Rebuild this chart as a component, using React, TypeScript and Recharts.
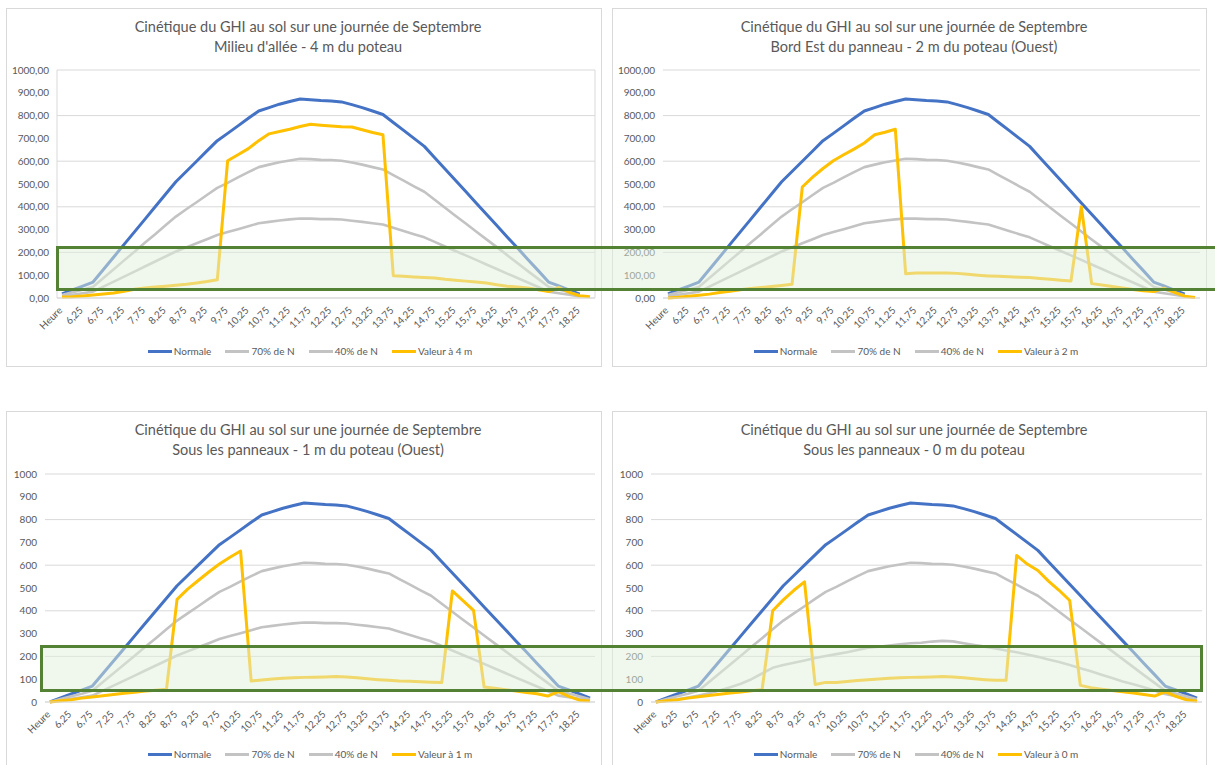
import React from 'react';
import { LineChart, Line, XAxis, YAxis, CartesianGrid } from 'recharts';

const categories = ['Heure','6,00','6,25','6,50','6,75','7,00','7,25','7,50','7,75','8,00','8,25','8,50','8,75','9,00','9,25','9,50','9,75','10,00','10,25','10,50','10,75','11,00','11,25','11,50','11,75','12,00','12,25','12,50','12,75','13,00','13,25','13,50','13,75','14,00','14,25','14,50','14,75','15,00','15,25','15,50','15,75','16,00','16,25','16,50','16,75','17,00','17,25','17,50','17,75','18,00','18,25','18,50'];

const yTicks = [0, 100, 200, 300, 400, 500, 600, 700, 800, 900, 1000];

// Top charts (4 m and 2 m)
const normaleTop = [18, 35, 52, 70, 125, 180, 235, 290, 345, 400, 455, 510, 555, 600, 645, 690, 722, 755, 788, 820, 835, 850, 862, 873, 870, 866, 864, 860, 848, 835, 820, 805, 770, 735, 700, 665, 615, 566, 516, 467, 417, 367, 318, 268, 219, 169, 120, 70, 53, 35, 17, null];
const pct70Top = [13, 25, 36, 49, 88, 126, 165, 203, 242, 280, 319, 357, 389, 420, 452, 483, 505, 529, 552, 574, 585, 595, 603, 611, 609, 606, 605, 602, 594, 585, 574, 564, 539, 515, 490, 466, 431, 396, 361, 327, 292, 257, 223, 188, 153, 118, 84, 49, 37, 25, 12, null];
const pct40Top = [7, 14, 21, 28, 50, 72, 94, 116, 138, 160, 182, 204, 222, 240, 258, 276, 289, 302, 315, 328, 334, 340, 345, 349, 348, 346, 346, 344, 339, 334, 328, 322, 308, 294, 280, 266, 246, 226, 206, 187, 167, 147, 127, 107, 88, 68, 48, 28, 21, 14, 7, null];
const valeur4m = [4, 5, 9, 13, 18, 22, 30, 38, 44, 48, 52, 56, 60, 66, 72, 80, 602, 628, 655, 690, 720, 730, 740, 752, 762, 758, 754, 751, 750, 738, 726, 716, 98, 95, 92, 90, 88, 82, 78, 74, 70, 66, 58, 52, 48, 44, 36, 28, 46, 25, 10, 6];
const valeur2m = [0, 3, 8, 12, 17, 24, 30, 36, 42, 46, 50, 55, 60, 487, 530, 568, 602, 628, 653, 680, 716, 727, 740, 106, 110, 110, 110, 110, 108, 104, 100, 97, 95, 93, 91, 90, 86, 82, 78, 75, 400, 63, 57, 50, 44, 37, 32, 28, 43, 25, 8, 2];

// Bottom charts (1 m and 0 m)
const normaleBot = [0, 18, 35, 52, 70, 125, 180, 235, 290, 345, 400, 455, 510, 555, 600, 645, 690, 722, 755, 788, 820, 835, 850, 862, 873, 870, 866, 864, 860, 848, 835, 820, 805, 770, 735, 700, 665, 615, 566, 516, 467, 417, 367, 318, 268, 219, 169, 120, 70, 53, 35, 17];
const pct70Bot = [0, 13, 25, 36, 49, 88, 126, 165, 203, 242, 280, 319, 357, 389, 420, 452, 483, 505, 529, 552, 574, 585, 595, 603, 611, 609, 606, 605, 602, 594, 585, 574, 564, 539, 515, 490, 466, 431, 396, 361, 327, 292, 257, 223, 188, 153, 118, 84, 49, 37, 25, 12];
const pct40Bot1m = [0, 7, 14, 21, 28, 50, 72, 94, 116, 138, 160, 182, 204, 222, 240, 258, 276, 289, 302, 315, 328, 334, 340, 345, 349, 348, 346, 346, 344, 339, 334, 328, 322, 308, 294, 280, 266, 246, 226, 206, 187, 167, 147, 127, 107, 88, 68, 48, 28, 21, 14, 7];
const pct40Bot0m = [0, 6, 12, 20, 28, 38, 50, 65, 80, 100, 125, 150, 162, 172, 182, 193, 202, 210, 218, 228, 238, 242, 248, 253, 258, 260, 265, 268, 266, 258, 250, 243, 235, 226, 218, 208, 198, 186, 175, 162, 148, 135, 120, 105, 90, 78, 65, 50, 35, 25, 15, 8];
const valeur1m = [0, 5, 10, 17, 22, 27, 33, 38, 43, 48, 52, 56, 450, 495, 533, 570, 605, 635, 662, 92, 97, 101, 104, 106, 108, 109, 110, 112, 110, 106, 102, 98, 95, 92, 91, 89, 87, 85, 487, 445, 402, 66, 60, 54, 48, 42, 36, 26, 46, 25, 8, 4];
const valeur0m = [0, 5, 10, 17, 23, 28, 34, 39, 44, 49, 54, 400, 448, 490, 527, 77, 86, 86, 90, 94, 98, 101, 104, 106, 108, 109, 110, 112, 110, 106, 102, 98, 95, 95, 643, 605, 577, 530, 490, 445, 73, 63, 56, 50, 45, 39, 33, 26, 45, 25, 10, 3];

const TITLE1 = 'Cinétique du GHI au sol sur une journée de Septembre';
const BLUE = '#4472C4';
const GRAY = '#C3C3C3';
const YELLOW = '#FFC000';
const TEXT = '#595959';
const FONT = 'Lato, sans-serif';

const XTick = (props: any) => {
  const { x, y, payload } = props;
  const ax = x + 1;
  const ay = y + 13;
  return (
    <text x={ax} y={ay} textAnchor="end" fontSize={10} fill={TEXT} fontFamily={FONT}
      transform={`rotate(-45, ${ax}, ${ay})`}>{payload.value}</text>
  );
};

type PanelProps = {
  left: number; top: number; width: number; height: number;
  subtitle: string; lastLabel: string;
  normale: (number | null)[]; p70: (number | null)[]; p40: (number | null)[]; valeur: number[];
  decimals: boolean; plotLeft: number; plotRight: number; plotTop: number; plotBottom: number;
  boxed: boolean;
};

function Panel(p: PanelProps) {
  const data = categories.map((c, i) => ({ cat: c, n: p.normale[i], a: p.p70[i], b: p.p40[i], v: p.valeur[i] }));
  const yAxisW = p.plotLeft;
  const fmt = (v: number) => (p.decimals ? v.toFixed(2).replace('.', ',') : String(v));
  const legend = [
    { name: 'Normale', color: BLUE },
    { name: '70% de N', color: GRAY },
    { name: '40% de N', color: GRAY },
    { name: p.lastLabel, color: YELLOW },
  ];
  return (
    <div style={{ position: 'absolute', left: p.left, top: p.top, width: p.width, height: p.height, background: '#fff' }}>
      <div style={{ position: 'absolute', inset: 0, border: '1px solid #D9D9D9', boxSizing: 'border-box' }} />
      <div style={{ position: 'absolute', left: 2, top: 9, width: 600, textAlign: 'center', fontFamily: FONT, fontSize: 14.5, lineHeight: '20px', color: TEXT, whiteSpace: 'nowrap' }}>
        <div>{TITLE1}</div>
        <div>{p.subtitle}</div>
      </div>
      <div style={{ position: 'absolute', left: 0, top: 0 }}>
        <LineChart width={p.width} height={p.height} data={data}
          margin={{ top: p.plotTop, right: p.width - p.plotRight, left: 0, bottom: p.height - p.plotBottom - 60 }}>
          <CartesianGrid stroke="#D9D9D9" vertical={p.boxed}
            verticalPoints={p.boxed ? [p.plotLeft, p.plotRight] : undefined} />
          <XAxis dataKey="cat" interval={1} tickLine={false} tickSize={0} tickMargin={0}
            axisLine={{ stroke: '#D9D9D9' }} height={60} padding={{ left: 5, right: 5 }} tick={<XTick />} />
          <YAxis width={yAxisW} domain={[0, 1000]} ticks={yTicks} axisLine={false} tickLine={false}
            tickFormatter={fmt} tick={{ fontSize: 10, fill: TEXT, fontFamily: FONT }} />
          <Line type="linear" dataKey="n" stroke={BLUE} strokeWidth={3} dot={false} isAnimationActive={false} strokeLinejoin="round" />
          <Line type="linear" dataKey="a" stroke={GRAY} strokeWidth={2.6} dot={false} isAnimationActive={false} strokeLinejoin="round" />
          <Line type="linear" dataKey="b" stroke={GRAY} strokeWidth={2.6} dot={false} isAnimationActive={false} strokeLinejoin="round" />
          <Line type="linear" dataKey="v" stroke={YELLOW} strokeWidth={3} dot={false} isAnimationActive={false} strokeLinejoin="round" />
        </LineChart>
      </div>
      <div style={{ position: 'absolute', left: 0, width: 608, top: 336, height: 14, display: 'flex', justifyContent: 'center', alignItems: 'center', fontFamily: FONT, fontSize: 10, color: TEXT, whiteSpace: 'nowrap' }}>
        {legend.map((l, i) => (
          <div key={i} style={{ display: 'flex', alignItems: 'center', marginLeft: i === 0 ? 0 : 14 }}>
            <div style={{ width: 24, height: 3, background: l.color, marginRight: 2 }} />
            <span>{l.name}</span>
          </div>
        ))}
      </div>
    </div>
  );
}

export default function App() {
  const greenBox: React.CSSProperties = {
    position: 'absolute', border: '3px solid #548235', background: 'rgba(226,239,218,0.5)', boxSizing: 'border-box',
  };
  return (
    <div style={{ position: 'absolute', left: 0, top: 0, width: 1215, height: 765, background: '#fff', overflow: 'hidden' }}>
      <Panel left={6} top={8} width={596} height={359} subtitle="Milieu d'allée - 4 m du poteau" lastLabel="Valeur à 4 m"
        normale={normaleTop} p70={pct70Top} p40={pct40Top} valeur={valeur4m} decimals
        plotLeft={51} plotRight={589} plotTop={62} plotBottom={290} boxed />
      <Panel left={612} top={8} width={595} height={359} subtitle="Bord Est du panneau - 2 m du poteau (Ouest)" lastLabel="Valeur à 2 m"
        normale={normaleTop} p70={pct70Top} p40={pct40Top} valeur={valeur2m} decimals
        plotLeft={51} plotRight={588} plotTop={62} plotBottom={290} boxed={false} />
      <Panel left={6} top={411} width={596} height={362} subtitle="Sous les panneaux - 1 m du poteau (Ouest)" lastLabel="Valeur à 1 m"
        normale={normaleBot} p70={pct70Bot} p40={pct40Bot1m} valeur={valeur1m} decimals={false}
        plotLeft={39} plotRight={589} plotTop={63} plotBottom={291} boxed={false} />
      <Panel left={612} top={411} width={595} height={362} subtitle="Sous les panneaux - 0 m du poteau" lastLabel="Valeur à 0 m"
        normale={normaleBot} p70={pct70Bot} p40={pct40Bot0m} valeur={valeur0m} decimals={false}
        plotLeft={39} plotRight={590} plotTop={63} plotBottom={291} boxed={false} />
      <div style={{ ...greenBox, left: 56, top: 246, width: 1180, height: 45 }} />
      <div style={{ ...greenBox, left: 40, top: 645, width: 1163, height: 47 }} />
    </div>
  );
}
